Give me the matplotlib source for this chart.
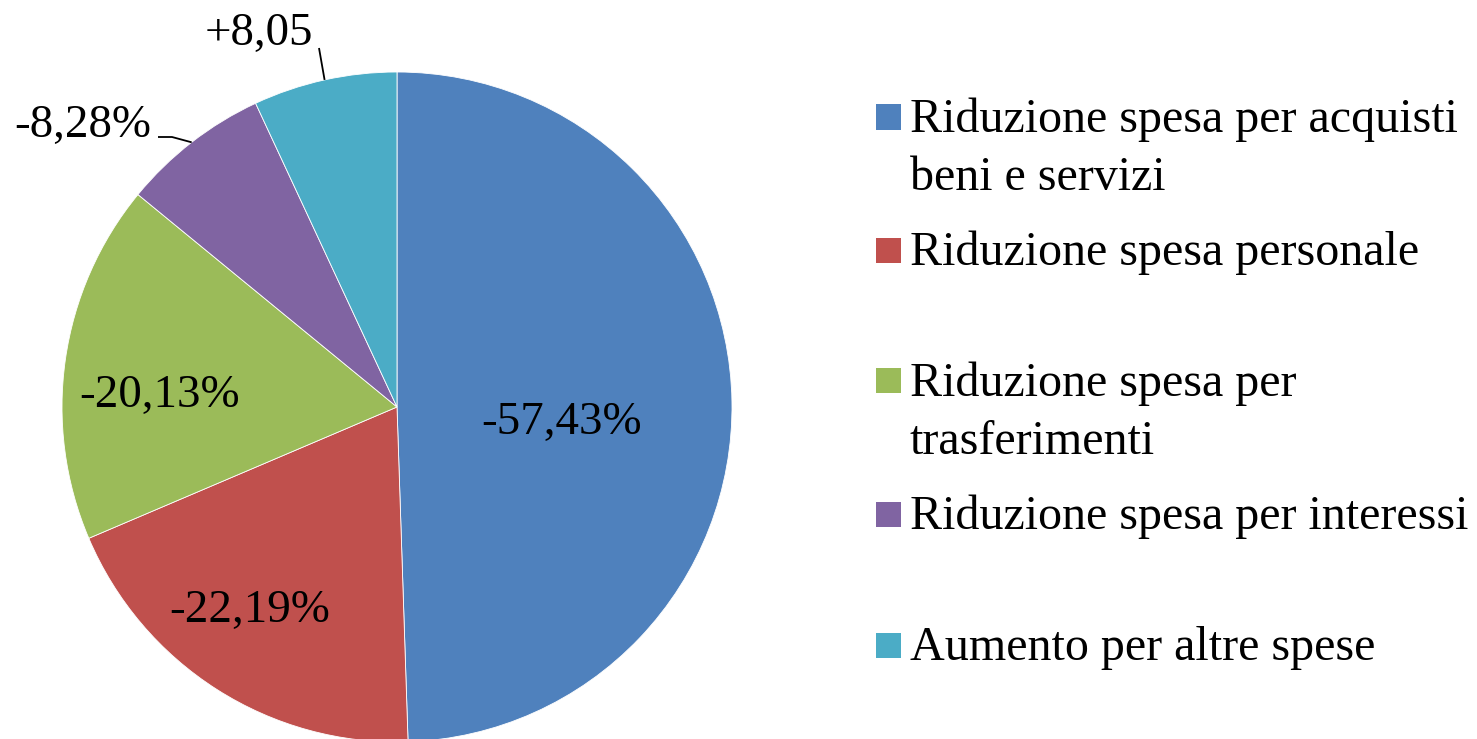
import numpy as np
import matplotlib
matplotlib.use("Agg")
import matplotlib.pyplot as plt
from matplotlib.patches import Rectangle

# ---- data ----
categories = [
    "Riduzione spesa per acquisti\nbeni e servizi",
    "Riduzione spesa personale",
    "Riduzione spesa per\ntrasferimenti",
    "Riduzione spesa per interessi",
    "Aumento per altre spese",
]
values = [57.43, 22.19, 20.13, 8.28, 8.05]
value_labels = ["-57,43%", "-22,19%", "-20,13%", "-8,28%", "+8,05"]
colors = ["#4F81BD", "#C0504D", "#9BBB59", "#8064A2", "#4BACC6"]

W, H = 1477, 739
plt.rcParams["font.family"] = ["Liberation Serif", "DejaVu Serif"]

fig = plt.figure(figsize=(W / 100, H / 100), dpi=100)
fig.patch.set_facecolor("white")

# pie geometry (pixels)
cx, cy, R = 397, 407, 335
ax = fig.add_axes([(cx - R) / W, (H - cy - R) / H, 2 * R / W, 2 * R / H])
wedges, _ = ax.pie(values, colors=colors, startangle=90, counterclock=False,
                   radius=1.0, wedgeprops=dict(edgecolor="white", linewidth=0.6))
for w in wedges:
    w.set_clip_on(False)
ax.set_xlim(-1, 1)
ax.set_ylim(-1, 1)
ax.set_aspect("auto")
ax.axis("off")

def px2d(px, py):
    return (px - cx) / R, (cy - py) / R

# value labels (pixel positions of text anchor: center x, baseline y)
label_pos = [(562, 434), (250, 622), (160, 407), (83, 137), (259, 45)]
fs = 33.8
for lab, (px, py) in zip(value_labels, label_pos):
    fig.text(px / W, 1 - py / H, lab, fontsize=fs, ha="center", va="baseline",
             color="black")

# leader lines for small slices
knees = {3: [(158, 137), (172, 137)], 4: [(319, 48)]}
for i, pts in knees.items():
    w = wedges[i]
    th = np.deg2rad((w.theta1 + w.theta2) / 2)
    xs = [px2d(*p)[0] for p in pts] + [np.cos(th)]
    ys = [px2d(*p)[1] for p in pts] + [np.sin(th)]
    ax.plot(xs, ys, color="black", lw=1.3, clip_on=False, solid_capstyle="butt")

# legend (manual)
leg_centers = [117, 250, 381, 514, 645]
box = 25
line_gap = 58
for cat, col, yc in zip(categories, colors, leg_centers):
    fig.patches.append(Rectangle((876 / W, 1 - (yc + box / 2) / H), box / W, box / H,
                                 transform=fig.transFigure, facecolor=col,
                                 edgecolor="none"))
    for j, line in enumerate(cat.split("\n")):
        fig.text(910 / W, 1 - (yc + 15 + j * line_gap) / H, line, fontsize=34.6,
                 ha="left", va="baseline", color="black")

fig.savefig("out.png", dpi=100, facecolor="white")
